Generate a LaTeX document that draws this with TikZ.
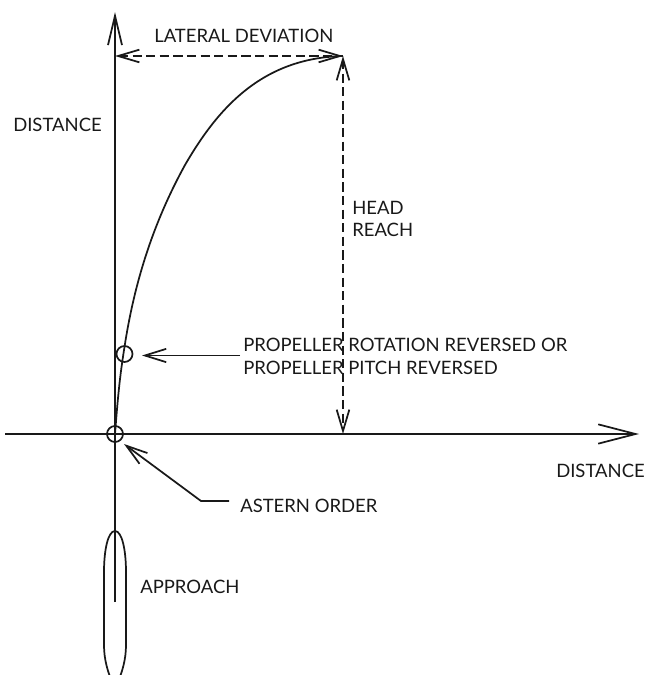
\documentclass[tikz,border=0pt]{standalone}
\usepackage{fontspec}
\setmainfont{Lato}
\usetikzlibrary{arrows.meta}
\tikzset{
  ink/.style={draw=black!90,line width=1.3pt},
  axis/.style={ink,-{Straight Barb[length=22pt,width=10.5pt,line width=1.3pt]}},
  axislong/.style={ink,-{Straight Barb[length=28pt,width=14.5pt,line width=1.3pt]}},
  dim/.style={ink,dash pattern=on 7pt off 3.2pt,{Straight Barb[length=16pt,width=9.5pt,line width=1.3pt]}-{Straight Barb[length=16pt,width=9.5pt,line width=1.3pt]}},
  pointer/.style={ink,-{Straight Barb[length=16pt,width=10pt,line width=1.3pt]}},
  lbl/.style={anchor=base west,inner sep=0pt,font=\fontsize{13.85pt}{15pt}\selectfont,text=black!90},
  mark circle/.style={circle,draw=black!90,line width=1.3pt,minimum size=12pt,inner sep=0pt,fill=none}
}
\begin{document}
\begin{tikzpicture}[x=0.75pt,y=-0.75pt]
\useasboundingbox (0,0) rectangle (646,675);
\coordinate (axisTop) at (115,12);
\coordinate (axisBot) at (115,602);
\coordinate (axisL) at (5,434);
\coordinate (axisR) at (639,434);
\coordinate (latL) at (115,56);
\coordinate (latR) at (343,56);
\coordinate (reachB) at (343,434);
\node[mark circle] (origin) at (115,434) {};
\node[mark circle] (rev) at (124.5,354) {};
\draw[axis] (axisBot) -- (axisTop);
\draw[axislong] (axisL) -- (axisR);
\draw[dim] (latL) -- (latR);
\draw[dim] (latR) -- (reachB);
\draw[ink] (115,434) .. controls (118,395) and (120,375) .. (124.5,347)
  .. controls (134,285) and (152,225) .. (185,165)
  .. controls (218,108) and (262,58) .. (343,56);
\node[lbl] (tLat) at (154,42) {LATERAL DEVIATION};
\node[lbl] (tDistY) at (13,131) {DISTANCE};
\node[lbl] (tHead) at (352,214) {HEAD};
\node[lbl] (tReach) at (352,236) {REACH};
\node[lbl] (tProp) at (243,351) {PROPELLER ROTATION REVERSED OR};
\node[lbl] (tPitch) at (243,374) {PROPELLER PITCH REVERSED};
\node[lbl] (tDistX) at (556,477) {DISTANCE};
\node[lbl] (tAstern) at (240,512) {ASTERN ORDER};
\node[lbl] (tApp) at (140,593) {APPROACH};
\coordinate (propEnd) at (240,355.5);
\coordinate (revTip) at (142,355.5);
\draw[pointer] (propEnd) -- (revTip);
\coordinate (asEnd) at (229,501);
\coordinate (asBend) at (201,501);
\coordinate (asTip) at (124,444);
\draw[pointer] (asEnd) -- (asBend) -- (asTip);
\begin{scope}
\clip (0,0) rectangle (646,675);
\draw[ink] (115,531) .. controls (122,531) and (126,550) .. (126,572)
  -- (126,645) .. controls (126,660) and (122,672) .. (118,682)
  -- (112,682) .. controls (108,672) and (104,660) .. (104,645)
  -- (104,572) .. controls (104,550) and (108,531) .. (115,531) -- cycle;
\end{scope}
\end{tikzpicture}
\end{document}
